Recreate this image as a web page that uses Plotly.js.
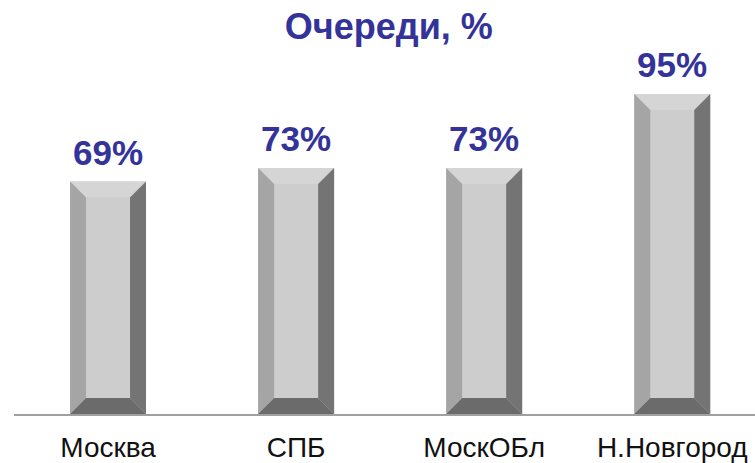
<!DOCTYPE html>
<html>
<head>
<meta charset="utf-8">
<script src="https://cdn.plot.ly/plotly-3.0.1.min.js"></script>
<style>
  html, body { margin: 0; padding: 0; background: #fff; }
  #graph { width: 755px; height: 463px; }
</style>
</head>
<body>
<div id="graph"></div>
<script>
// chart data
var categories = ['Москва', 'СПБ', 'МоскОБл', 'Н.Новгород'];
var values = [69, 73, 73, 95];
var valueLabels = ['69%', '73%', '73%', '95%'];

var FONT = 'Liberation Sans, Arial, sans-serif';
var BLUE = '#333399';

var barWidth = 0.404;   // in category units
var bevelX = 0.085;     // bevel depth, horizontal (category units)
var bevelY = 4.75;      // bevel depth, vertical (value units)

var xs = categories.map(function (c, i) { return i; });

// face of the bar
var barTrace = {
  type: 'bar',
  x: xs,
  y: values,
  width: barWidth,
  marker: { color: '#cdcdcd', line: { width: 0 } },
  hoverinfo: 'none'
};

// bevelled edges, built from the values
function poly(pts) {
  return 'M' + pts.map(function (p) { return p[0] + ',' + p[1]; }).join(' L') + ' Z';
}
var shapes = [];
values.forEach(function (v, i) {
  var x0 = i - barWidth / 2, x1 = i + barWidth / 2;
  var faces = [
    { c: '#d5d5d5', p: [[x0, v], [x1, v], [x1 - bevelX, v - bevelY], [x0 + bevelX, v - bevelY]] },
    { c: '#a5a5a5', p: [[x0, 0], [x0, v], [x0 + bevelX, v - bevelY], [x0 + bevelX, bevelY]] },
    { c: '#747474', p: [[x1, 0], [x1, v], [x1 - bevelX, v - bevelY], [x1 - bevelX, bevelY]] },
    { c: '#6b6b6b', p: [[x0, 0], [x1, 0], [x1 - bevelX, bevelY], [x0 + bevelX, bevelY]] }
  ];
  faces.forEach(function (f) {
    shapes.push({
      type: 'path', xref: 'x', yref: 'y', path: poly(f.p),
      fillcolor: f.c, line: { width: 0 }, layer: 'above'
    });
  });
});

var annotations = values.map(function (v, i) {
  return {
    x: i, y: v, xref: 'x', yref: 'y',
    text: valueLabels[i], showarrow: false,
    yanchor: 'bottom', yshift: 8,
    font: { family: FONT, size: 35, color: BLUE, weight: 'bold' }
  };
});

var layout = {
  width: 755,
  height: 463,
  margin: { l: 14, r: 0, t: 44, b: 49 },
  paper_bgcolor: '#ffffff',
  plot_bgcolor: '#ffffff',
  showlegend: false,
  title: {
    text: '<b>Очереди, %</b>',
    x: 0.515, xanchor: 'center',
    y: 0.944, yanchor: 'middle', yref: 'container',
    font: { family: FONT, size: 36, color: BLUE }
  },
  xaxis: {
    range: [-0.5, 3.44],
    tickvals: xs,
    ticktext: categories,
    showgrid: false,
    zeroline: false,
    showline: true,
    linecolor: '#a0a0a0',
    linewidth: 1.5,
    ticks: '',
    ticklabelstandoff: 8,
    tickfont: { family: FONT, size: 28, color: '#111111' },
    fixedrange: true
  },
  yaxis: {
    range: [0, 109.85],
    visible: false,
    fixedrange: true
  },
  shapes: shapes,
  annotations: annotations
};

Plotly.newPlot('graph', [barTrace], layout, { displayModeBar: false, staticPlot: true });
</script>
</body>
</html>
